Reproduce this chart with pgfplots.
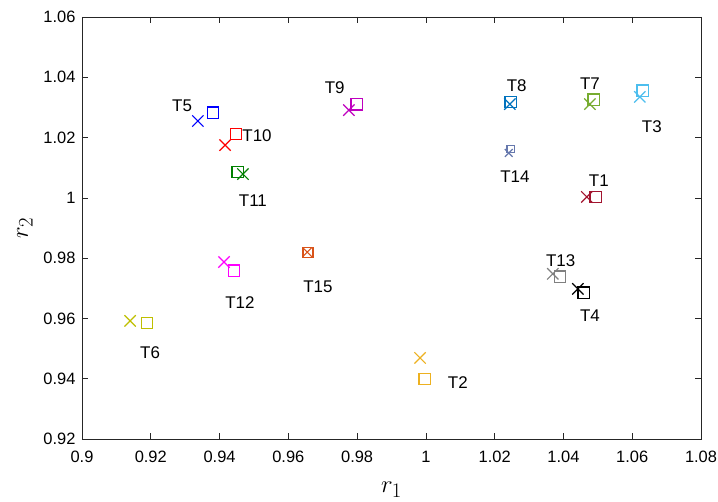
\documentclass[border=0pt]{standalone}
\usepackage{pgfplots}
\pgfplotsset{compat=1.18}
\usepackage{fontspec}
\setmainfont{Liberation Sans}
\definecolor{cT5}{rgb}{0,0,1}
\definecolor{cT10}{rgb}{1,0,0}
\definecolor{cT11}{rgb}{0,0.5,0}
\definecolor{cT9}{rgb}{0.75,0,0.75}
\definecolor{cT8}{rgb}{0,0.447,0.741}
\definecolor{cT7}{rgb}{0.466,0.674,0.188}
\definecolor{cT3}{rgb}{0.301,0.745,0.933}
\definecolor{cT14}{rgb}{0.4,0.47,0.68}
\definecolor{cT1}{rgb}{0.635,0.078,0.184}
\definecolor{cT12}{rgb}{1,0,1}
\definecolor{cT15}{rgb}{0.85,0.325,0.098}
\definecolor{cT6}{rgb}{0.75,0.75,0}
\definecolor{cT2}{rgb}{0.929,0.694,0.125}
\definecolor{cT13}{rgb}{0.5,0.5,0.5}
\definecolor{cT4}{rgb}{0,0,0}
\pgfplotsset{
  xx/.style={draw=#1, color=#1, only marks, mark=x, mark size=8bp, mark options={draw=#1, solid, line width=1.2pt}},
  sq/.style={draw=#1, color=#1, only marks, mark=square, mark size=5.8bp, mark options={draw=#1, fill=none, solid, line width=1.2pt}},
}
\begin{document}
\begin{tikzpicture}
\begin{axis}[
  scale only axis, width=619bp, height=422bp,
  xmin=0.9, xmax=1.08, ymin=0.92, ymax=1.06,
  xtick={0.9,0.92,...,1.081}, ytick={0.92,0.94,...,1.061},
  tick align=inside, tick pos=both, major tick length=6bp,
  axis line style={black!85, line width=0.7pt},
  every tick/.style={black!85, line width=0.7pt},
  /pgf/number format/assume math mode=true,
  ticklabel style={font=\fontsize{16.5}{19}\selectfont},
  xticklabel style={yshift=-9bp},
  yticklabel style={xshift=-3bp},
  xlabel={$r_1$}, ylabel={$r_2$},
  label style={font=\fontsize{28}{32}\selectfont},
  xlabel style={yshift=-12bp}, ylabel style={yshift=4bp},
  clip=false,
]
% T5
\addplot[xx=cT5] coordinates {(0.9337,1.0255)};
\addplot[sq=cT5] coordinates {(0.9381,1.0282)};
% T10
\addplot[xx=cT10] coordinates {(0.9416,1.0175)};
\addplot[sq=cT10] coordinates {(0.9448,1.0212)};
% T11
\addplot[sq=cT11] coordinates {(0.9453,1.0086)};
\addplot[xx=cT11] coordinates {(0.9468,1.0079)};
% T9
\addplot[xx=cT9] coordinates {(0.9776,1.0291)};
\addplot[sq=cT9] coordinates {(0.9799,1.0311)};
% T8
\addplot[xx=cT8] coordinates {(1.0244,1.0311)};
\addplot[sq=cT8] coordinates {(1.0247,1.0318)};
% T7
\addplot[xx=cT7] coordinates {(1.0477,1.0311)};
\addplot[sq=cT7] coordinates {(1.0488,1.0325)};
% T3
\addplot[xx=cT3] coordinates {(1.0622,1.0335)};
\addplot[sq=cT3] coordinates {(1.0631,1.0355)};
% T14
\addplot[xx=cT14, mark size=5.5bp] coordinates {(1.0241,1.0149)};
\addplot[sq=cT14, mark size=3.8bp] coordinates {(1.0247,1.0162)};
% T1
\addplot[xx=cT1] coordinates {(1.0468,1.0003)};
\addplot[sq=cT1] coordinates {(1.0494,1.0003)};
% T12
\addplot[xx=cT12] coordinates {(0.9413,0.9787)};
\addplot[sq=cT12] coordinates {(0.9442,0.9758)};
% T15
\addplot[xx=cT15, mark size=6.5bp] coordinates {(0.9655,0.9820)};
\addplot[sq=cT15, mark size=5bp] coordinates {(0.9657,0.9820)};
% T6
\addplot[xx=cT6] coordinates {(0.9140,0.9592)};
\addplot[sq=cT6] coordinates {(0.9189,0.9585)};
% T2
\addplot[xx=cT2] coordinates {(0.9983,0.9469)};
\addplot[sq=cT2] coordinates {(0.9997,0.9399)};
% T13
\addplot[xx=cT13] coordinates {(1.0369,0.9748)};
\addplot[sq=cT13] coordinates {(1.0390,0.9738)};
% T4
\addplot[xx=cT4] coordinates {(1.0442,0.9698)};
\addplot[sq=cT4] coordinates {(1.0459,0.9685)};
% labels
\begin{scope}[every node/.style={font=\fontsize{17}{20}\selectfont, inner sep=0pt}]
\node at (axis cs:0.9291,1.0305) {T5};
\node at (axis cs:0.9509,1.0205) {T10};
\node at (axis cs:0.9497,0.9990) {T11};
\node at (axis cs:0.9735,1.0364) {T9};
\node at (axis cs:1.0264,1.0371) {T8};
\node at (axis cs:1.0477,1.0378) {T7};
\node at (axis cs:1.0657,1.0235) {T3};
\node at (axis cs:1.0259,1.0069) {T14};
\node at (axis cs:1.0503,1.0056) {T1};
\node at (axis cs:0.9459,0.9651) {T12};
\node at (axis cs:0.9686,0.9704) {T15};
\node at (axis cs:0.9198,0.9485) {T6};
\node at (axis cs:1.0093,0.9386) {T2};
\node at (axis cs:1.0392,0.9791) {T13};
\node at (axis cs:1.0477,0.9608) {T4};
\end{scope}
\end{axis}
\pgfresetboundingbox
\path (-82bp,-63bp) rectangle (636bp,439bp);
\end{tikzpicture}
\end{document}
